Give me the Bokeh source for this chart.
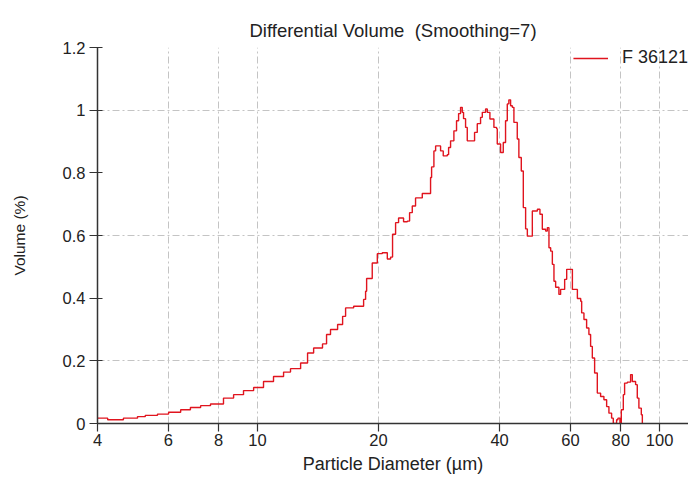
from bokeh.plotting import figure
from bokeh.models import FixedTicker, NumeralTickFormatter, ColumnDataSource, Legend, LegendItem
from bokeh.embed import file_html
from bokeh.resources import INLINE

# Particle diameter (um) and differential volume (%)
diameter = [4.00, 4.24, 4.64, 5.03, 5.26, 5.64, 6.01, 6.44, 6.81, 7.22, 7.64, 7.96,
            8.23, 8.72, 9.23, 9.78, 10.35, 10.96, 11.61, 12.08, 12.80, 13.32, 13.79,
            14.51, 14.85, 15.19, 15.82, 16.28, 16.56, 17.34, 18.36, 18.57, 18.68,
            19.29, 19.86, 20.43, 21.03, 21.43, 21.67, 22.05, 22.43, 23.08, 23.58,
            23.89, 24.26, 24.72, 25.69, 26.44, 26.94, 27.10, 27.46, 27.73, 28.21,
            28.53, 28.97, 29.64, 29.87, 30.21, 30.79, 31.26, 31.63, 31.99, 32.30,
            32.54, 32.92, 33.24, 34.21, 34.66, 35.20, 35.87, 36.23, 36.92, 37.28,
            37.84, 38.72, 39.32, 39.47, 40.23, 40.85, 41.39, 41.80, 42.18, 42.60,
            43.02, 43.42, 44.26, 44.67, 45.29, 45.82, 46.43, 46.89, 47.51, 48.25,
            49.66, 50.40, 51.09, 52.07, 52.57, 53.07, 53.59, 54.11, 54.61, 55.14,
            56.18, 56.73, 57.39, 58.06, 58.74, 59.76, 60.69, 62.45, 63.65, 64.00,
            64.84, 65.84, 66.71, 67.36, 68.03, 68.93, 70.00, 71.33, 72.70, 73.84,
            74.81, 75.97, 76.71, 78.18, 78.77, 79.69, 80.31, 81.24, 81.84, 83.11,
            84.70, 85.53, 87.16, 88.00, 88.82, 90.06, 90.59]
volume = [0.017, 0.012, 0.017, 0.022, 0.026, 0.030, 0.036, 0.044, 0.051, 0.057, 0.062, 0.062,
          0.081, 0.092, 0.105, 0.115, 0.134, 0.150, 0.164, 0.175, 0.193, 0.225, 0.241,
          0.254, 0.284, 0.300, 0.316, 0.342, 0.369, 0.374, 0.396, 0.422, 0.463,
          0.512, 0.542, 0.545, 0.525, 0.531, 0.604, 0.641, 0.656, 0.644, 0.646,
          0.673, 0.694, 0.720, 0.734, 0.734, 0.785, 0.819, 0.870, 0.886, 0.886,
          0.870, 0.854, 0.858, 0.881, 0.902, 0.934, 0.966, 0.989, 1.009, 0.993,
          0.973, 0.945, 0.902, 0.902, 0.929, 0.957, 0.977, 0.993, 1.004, 0.993,
          0.972, 0.945, 0.941, 0.892, 0.865, 0.897, 0.966, 1.020, 1.033, 1.014,
          1.009, 0.961, 0.908, 0.849, 0.806, 0.689, 0.621, 0.598, 0.598, 0.678,
          0.684, 0.668, 0.620, 0.614, 0.625, 0.561, 0.550, 0.508, 0.454, 0.435,
          0.412, 0.428, 0.428, 0.460, 0.492, 0.492, 0.428, 0.399, 0.390, 0.353,
          0.332, 0.305, 0.284, 0.246, 0.209, 0.161, 0.097, 0.086, 0.076, 0.054,
          0.033, 0.017, 0.000, 0.012, 0.017, 0.000, 0.044, 0.092, 0.129, 0.132,
          0.156, 0.134, 0.124, 0.081, 0.049, 0.028, 0.000]

x_ticks = [4, 6, 8, 10, 20, 40, 60, 80, 100]
y_ticks = [0, 0.2, 0.4, 0.6, 0.8, 1.0, 1.2]
y_grid_ticks = [0.2, 0.6, 1.0, 1.2]
series_name = "F 36121"
title_text = "Differential Volume \u00a0(Smoothing=7)"

FONT = "Liberation Sans"
TXT = "#222222"

p = figure(width=688, height=477, x_axis_type="log", x_range=(4, 118), y_range=(0, 1.2),
           output_backend="svg", toolbar_location=None,
           min_border_left=97, min_border_top=47, min_border_bottom=54, min_border_right=0,
           title=title_text)
p.outline_line_color = None
p.background_fill_color = "white"
p.border_fill_color = "white"

p.title.align = "center"
p.title.text_font = FONT
p.title.text_font_size = "18.5px"
p.title.text_font_style = "normal"
p.title.text_color = TXT
p.title.standoff = 14

src = ColumnDataSource(dict(x=diameter, y=volume))
r = p.step("x", "y", source=src, mode="after", line_color="#e0141e", line_width=1.4)

# axes
p.xaxis.ticker = FixedTicker(ticks=x_ticks)
p.xaxis.formatter = NumeralTickFormatter(format="0")
p.yaxis.ticker = FixedTicker(ticks=y_ticks)
p.yaxis.formatter = NumeralTickFormatter(format="0.[0]")
p.xaxis.axis_label = "Particle Diameter (µm)"
p.yaxis.axis_label = "Volume (%)"
for ax in (p.xaxis, p.yaxis):
    ax.axis_line_color = "#333333"
    ax.axis_line_width = 1.5
    ax.major_tick_line_color = "#333333"
    ax.major_tick_line_width = 1.2
    ax.minor_tick_line_color = None
    ax.major_label_text_font = FONT
    ax.major_label_text_font_size = "16.5px"
    ax.major_label_text_color = TXT
    ax.axis_label_text_font = FONT
    ax.axis_label_text_font_style = "normal"
    ax.axis_label_text_color = TXT
p.xaxis.axis_label_text_font_size = "18px"
p.yaxis.axis_label_text_font_size = "15.5px"
p.xaxis.major_tick_out = 8
p.xaxis.major_tick_in = 0
p.xaxis.major_label_standoff = 2
p.xaxis.axis_label_standoff = 5
p.yaxis.major_tick_out = 8
p.yaxis.major_tick_in = 5
p.yaxis.major_label_standoff = 4
p.yaxis.axis_label_standoff = 32

# grid
p.xgrid.ticker = FixedTicker(ticks=x_ticks)
p.ygrid.ticker = FixedTicker(ticks=y_grid_ticks)
for g in (p.xgrid, p.ygrid):
    g.grid_line_color = "#c4c4c4"
    g.grid_line_dash = "7 3 2 3"
    g.grid_line_width = 1

legend = Legend(items=[LegendItem(label=series_name, renderers=[r])],
                location="top_right", border_line_color=None, background_fill_alpha=0,
                glyph_width=35, label_standoff=14, margin=0, padding=3, spacing=0,
                label_text_font=FONT, label_text_font_size="18px", label_text_color=TXT)
p.add_layout(legend, "center")

open("out.html", "w").write(file_html(p, INLINE))
